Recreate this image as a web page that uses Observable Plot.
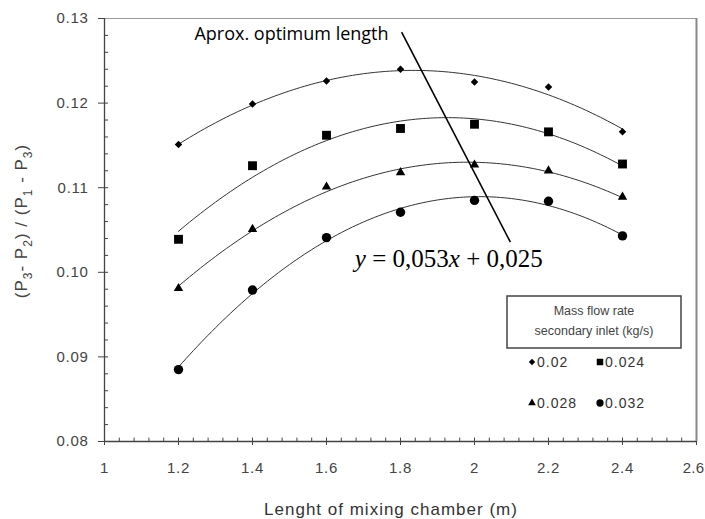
<!DOCTYPE html>
<html>
<head>
<meta charset="utf-8">
<script src="https://cdn.jsdelivr.net/npm/d3@7"></script>
<script src="https://cdn.jsdelivr.net/npm/@observablehq/plot@0.6"></script>
<style>
  body { margin: 0; background: #fff; }
  #chart { width: 705px; height: 519px; }
  g[aria-label="x-axis tick label"] text, g[aria-label="y-axis tick label"] text { letter-spacing: 0.7px; }
</style>
</head>
<body>
<div id="chart"></div>
<script>
// ---- Data ----
const lengths = [1.2, 1.4, 1.6, 1.8, 2.0, 2.2, 2.4];           // mixing chamber length (m)
const seriesNames = ["0.02", "0.024", "0.028", "0.032"];       // mass flow rate secondary inlet (kg/s)
const flow002  = [0.1151, 0.1199, 0.1226, 0.1240, 0.1225, 0.1219, 0.1166];
const flow0024 = [0.1039, 0.1126, 0.1162, 0.1170, 0.1175, 0.1166, 0.1128];
const flow0028 = [0.0981, 0.1051, 0.1101, 0.1118, 0.1127, 0.1120, 0.1089];
const flow0032 = [0.0885, 0.0979, 0.1041, 0.1071, 0.1085, 0.1084, 0.1043];
const xTicks = [1, 1.2, 1.4, 1.6, 1.8, 2, 2.2, 2.4, 2.6];
const yTicks = [0.08, 0.09, 0.10, 0.11, 0.12, 0.13];
const xDomain = [1, 2.6];
const yDomain = [0.08, 0.13];
const optLabel = [{x: 1.243, y: 0.1281, text: "Aprox. optimum length"}];
const optLine = [{x1: 1.803, y1: 0.12838, x2: 2.097, y2: 0.10356}];
const eqPos = [1.678, 0.10057];

// ---- Build tables ----
const seriesValues = [flow002, flow0024, flow0028, flow0032];
const points = seriesValues.flatMap((vals, i) =>
  lengths.map((x, j) => ({series: seriesNames[i], x, y: vals[j]})));

// quadratic least-squares trend line (as in the spreadsheet chart)
function quadFit(xs, ys) {
  const S = [0, 0, 0, 0, 0], T = [0, 0, 0];
  xs.forEach((x, i) => {
    for (let k = 0; k < 5; k++) S[k] += x ** k;
    for (let k = 0; k < 3; k++) T[k] += ys[i] * x ** k;
  });
  const A = [[S[0], S[1], S[2], T[0]], [S[1], S[2], S[3], T[1]], [S[2], S[3], S[4], T[2]]];
  for (let c = 0; c < 3; c++) {
    for (let r = c + 1; r < 3; r++) {
      const f = A[r][c] / A[c][c];
      for (let k = c; k < 4; k++) A[r][k] -= f * A[c][k];
    }
  }
  const a = [0, 0, 0];
  for (let r = 2; r >= 0; r--) {
    let s = A[r][3];
    for (let k = r + 1; k < 3; k++) s -= A[r][k] * a[k];
    a[r] = s / A[r][r];
  }
  return a;
}
const sampleX = d3.range(0, 121).map(i => lengths[0] + i * (lengths[lengths.length - 1] - lengths[0]) / 120);
const curves = seriesValues.flatMap((vals, i) => {
  const a = quadFit(lengths, vals);
  return sampleX.map(x => ({series: seriesNames[i], x, y: a[0] + a[1] * x + a[2] * x * x}));
});

const xMinor = d3.range(0, 41).map(i => xDomain[0] + i * 0.04);
const yMinor = d3.range(0, 26).map(i => yDomain[0] + i * 0.002);

const diamond = {
  draw(ctx, size) {
    const s = Math.sqrt(size / 2);
    ctx.moveTo(0, -s); ctx.lineTo(s, 0); ctx.lineTo(0, s); ctx.lineTo(-s, 0); ctx.closePath();
  }
};
const symbolSpec = [
  {sym: diamond, r: 3.0},
  {sym: d3.symbolSquare, r: 5.0},
  {sym: d3.symbolTriangle, r: 3.5},
  {sym: d3.symbolCircle, r: 4.7}
];

const plot = Plot.plot({
  width: 705,
  height: 519,
  marginLeft: 104,
  marginRight: 9,
  marginTop: 18,
  marginBottom: 78,
  x: {domain: xDomain},
  y: {domain: yDomain},
  style: {fontFamily: "'Liberation Sans', Arial, sans-serif", fontSize: "15px", background: "#fff"},
  marks: [
    Plot.ruleX(xMinor, {y1: 0.08, y2: 0.0804, stroke: "#444"}),
    Plot.ruleY(yMinor, {x1: 1, x2: 1.011, stroke: "#444"}),
    Plot.ruleY([yDomain[1]], {stroke: "#999", strokeWidth: 1.2}),
    Plot.ruleX([xDomain[1]], {stroke: "#888", strokeWidth: 2}),
    Plot.ruleX([xDomain[0]], {stroke: "#444", strokeWidth: 1.3}),
    Plot.ruleY([yDomain[0]], {stroke: "#444", strokeWidth: 1.6}),
    Plot.axisX({ticks: xTicks, tickSize: 4, tickPadding: 17, tickFormat: d => String(d), label: null, color: "#444"}),
    Plot.axisY({ticks: yTicks, tickSize: 6, tickPadding: 10, tickFormat: d3.format(".2f"), label: null, color: "#444"}),
    Plot.line(curves, {x: "x", y: "y", z: "series", stroke: "#333", strokeWidth: 1, curve: "linear"}),
    ...seriesNames.map((name, i) =>
      Plot.dot(points.filter(d => d.series === name), {
        x: "x", y: "y", symbol: symbolSpec[i].sym, r: symbolSpec[i].r, fill: "black", stroke: "none"
      })),
    Plot.link(optLine, {x1: "x1", y1: "y1", x2: "x2", y2: "y2", stroke: "black", strokeWidth: 1.6}),
    Plot.text(optLabel, {x: "x", y: "y", text: "text", textAnchor: "start", lineAnchor: "middle",
      fontSize: 18, fontFamily: "'Open Sans', sans-serif", fill: "black"})
  ]
});

const svg = d3.select(plot);
const sx = plot.scale("x"), sy = plot.scale("y");

// keep the last x tick label ("2.6") inside the picture, as in the reference
const xLabels = svg.selectAll('g[aria-label="x-axis tick label"] text').nodes();
if (xLabels.length) {
  d3.select(xLabels[xLabels.length - 1]).style("letter-spacing", "0.2px").attr("dx", -3);
}

// Equation annotation
const eq = svg.append("text")
  .attr("x", sx.apply(eqPos[0])).attr("y", sy.apply(eqPos[1]))
  .attr("text-anchor", "start")
  .attr("font-family", "'Liberation Serif', 'Times New Roman', serif")
  .attr("font-size", 25).attr("fill", "black");
eq.append("tspan").attr("font-style", "italic").text("y");
eq.append("tspan").text(" = 0,053");
eq.append("tspan").attr("font-style", "italic").text("x");
eq.append("tspan").text(" + 0,025");

// Axis titles
const ylab = svg.append("text")
  .attr("transform", "translate(27,221) rotate(-90)")
  .attr("text-anchor", "middle")
  .attr("font-size", 17).attr("fill", "#444")
  .style("letter-spacing", "1px");
const ylabParts = [["(P", false], ["3", true], ["- P", false], ["2", true], [") / (P", false], ["1", true], [" - P", false], ["3", true], [")", false]];
let shifted = false;
ylabParts.forEach(([t, sub]) => {
  const ts = ylab.append("tspan").text(t);
  if (sub && !shifted) { ts.attr("dy", 5).attr("font-size", 12); shifted = true; }
  else if (sub) { ts.attr("font-size", 12); }
  else if (shifted) { ts.attr("dy", -5); shifted = false; }
});

svg.append("text")
  .attr("x", 391).attr("y", 515)
  .attr("text-anchor", "middle")
  .attr("font-size", 17).attr("fill", "#333")
  .style("letter-spacing", "1px")
  .text("Lenght of mixing chamber (m)");

// Legend
const lg = svg.append("g").attr("font-family", "'Liberation Sans', Arial, sans-serif");
lg.append("rect").attr("x", 507).attr("y", 296).attr("width", 174).attr("height", 52)
  .attr("fill", "white").attr("stroke", "#444").attr("stroke-width", 1.5);
lg.append("text").attr("x", 594).attr("y", 315).attr("text-anchor", "middle")
  .attr("font-size", 12.5).attr("fill", "#444").text("Mass flow rate");
lg.append("text").attr("x", 594).attr("y", 335).attr("text-anchor", "middle")
  .attr("font-size", 12.5).attr("fill", "#444").text("secondary inlet (kg/s)");
const legendPos = [[532, 362], [600, 362], [532, 403], [600, 403]];
const legendSizes = [20, 42, 26, 42];
seriesNames.forEach((name, i) => {
  const [px, py] = legendPos[i];
  lg.append("path")
    .attr("transform", `translate(${px},${py})`)
    .attr("d", d3.symbol(symbolSpec[i].sym, legendSizes[i])())
    .attr("fill", "black");
  lg.append("text").attr("x", px + 5).attr("y", py + 5)
    .attr("text-anchor", "start")
    .attr("font-size", 14).attr("fill", "#333")
    .style("letter-spacing", "1px")
    .text(name);
});

document.getElementById("chart").appendChild(plot);
</script>
</body>
</html>
